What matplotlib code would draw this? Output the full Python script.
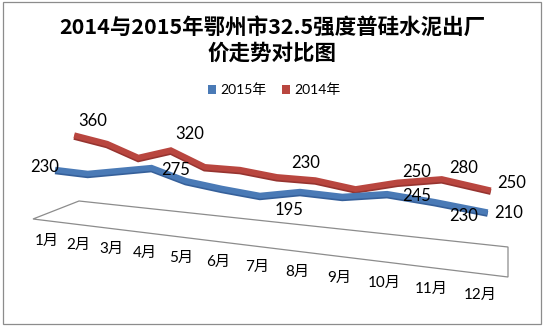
import numpy as np
import matplotlib
matplotlib.use("Agg")
import matplotlib.pyplot as plt
import matplotlib.transforms as mtransforms
import matplotlib.patheffects as pe
from matplotlib.patches import Patch, Polygon, Rectangle

# ---------------- data ----------------
months = ["1月", "2月", "3月", "4月", "5月", "6月", "7月", "8月", "9月", "10月", "11月", "12月"]
series_names = ["2015年", "2014年"]
price_2015 = [230, 225, 250, 275, 230, 210, 195, 225, 220, 245, 230, 210]
price_2014 = [360, 330, 270, 320, 250, 250, 230, 230, 205, 250, 280, 250]
labeled_months = [0, 3, 6, 9, 10, 11]

title_line1 = "2014与2015年鄂州市32.5强度普硅水泥出厂"
title_line2 = "价走势对比图"

# ---------------- style / layout ----------------
W, H = 546, 328
BLUE, BLUE_DARK = "#4a7ab6", "#36609a"
RED, RED_DARK = "#b9463f", "#963430"
CJK = ["Noto Sans CJK SC", "DejaVu Sans"]
NUM = ["Lato", "Noto Sans CJK SC", "DejaVu Sans"]

# perspective parameters of each depth plane (A, C, G, D, E, F)
persp_2015 = (27.7, 58.0, -0.0229, -1.444, -0.2107, 218.5)
persp_2014 = (27.99, 77.0, -0.0192, -0.634, -0.1879, 203.6)
persp_labels = (29.9, 47.0, -0.0197, -0.9, 0.0, 241.0)

# label offsets in pixels (dx, dy downward)
off_2015 = [(-13, -3), (24, 2), (29, 14), (30, 2), (29, 14), (24, 1)]
off_2014 = [(16, -15), (19, -16), (29, -14), (19, -10), (22, -11), (24, -7)]

floor_pts = [(33, 219), (79, 201), (508, 247), (508, 277)]


class Persp(mtransforms.Transform):
    """Simple planar perspective projection: (category, value) -> pixel."""
    input_dims = 2
    output_dims = 2
    is_separable = False
    has_inverse = False

    def __init__(self, params):
        super().__init__()
        self.p = params

    def transform_non_affine(self, values):
        values = np.asarray(values, dtype=float).reshape(-1, 2)
        A, C, G, D, E, F = self.p
        m = values[:, 0]
        v = values[:, 1]
        w = 1.0 + G * m
        return np.column_stack([(A * m + C) / w, (D * m + E * v + F) / w])


fig = plt.figure(figsize=(W / 100, H / 100), dpi=100)
ax = fig.add_axes([0, 0, 1, 1])
ax.set_xlim(0, W)
ax.set_ylim(H, 0)
ax.axis("off")

# chart border
ax.add_patch(Rectangle((3, 2), 538, 322, fill=False, edgecolor="#8c8c8c", lw=0.9))

# floor
ax.add_patch(Polygon(floor_pts, closed=True, fill=False, edgecolor="#8c8c8c", lw=0.9))

idx = np.arange(len(months))
t2014 = Persp(persp_2014) + ax.transData
t2015 = Persp(persp_2015) + ax.transData
tlab = Persp(persp_labels) + ax.transData

ax.plot(idx, price_2014, color=RED, lw=4.2, solid_joinstyle="miter", transform=t2014,
        label=series_names[1],
        path_effects=[pe.Stroke(linewidth=4.2, foreground=RED_DARK, offset=(0, -1.2)), pe.Normal()])
ax.plot(idx, price_2015, color=BLUE, lw=4.2, solid_joinstyle="miter", transform=t2015,
        label=series_names[0],
        path_effects=[pe.Stroke(linewidth=4.2, foreground=BLUE_DARK, offset=(0, -1.2)), pe.Normal()])

for k, i in enumerate(labeled_months):
    dx, dy = off_2014[k]
    ax.annotate(str(price_2014[i]), (idx[i], price_2014[i]), xycoords=t2014,
                xytext=(dx, -dy), textcoords="offset pixels", ha="center", va="center",
                fontsize=12, family=NUM, color="black", zorder=5)
    dx, dy = off_2015[k]
    ax.annotate(str(price_2015[i]), (idx[i], price_2015[i]), xycoords=t2015,
                xytext=(dx, -dy), textcoords="offset pixels", ha="center", va="center",
                fontsize=12, family=NUM, color="black", zorder=5)

# category labels along the floor front
for i, lab in enumerate(months):
    ax.text(idx[i], 0, lab, transform=tlab, ha="center", va="center",
            fontsize=11, family=NUM, color="black")

# title
fig.text(272 / W, 1 - 27 / H, title_line1, ha="center", va="center",
         fontsize=15.5, fontweight="bold", family=CJK)
fig.text(272 / W, 1 - 53 / H, title_line2, ha="center", va="center",
         fontsize=15.5, fontweight="bold", family=CJK)

# legend
handles = [Patch(facecolor=BLUE, edgecolor="none", label=series_names[0]),
           Patch(facecolor=RED, edgecolor="none", label=series_names[1])]
fig.legend(handles=handles, loc="center", bbox_to_anchor=(274.5 / W, 1 - 90 / H),
           ncol=2, frameon=False, handlelength=0.6, handleheight=0.6,
           handletextpad=0.3, columnspacing=1.1, borderpad=0.2,
           prop={"family": NUM, "size": 10})

fig.savefig("out.png", dpi=100)
